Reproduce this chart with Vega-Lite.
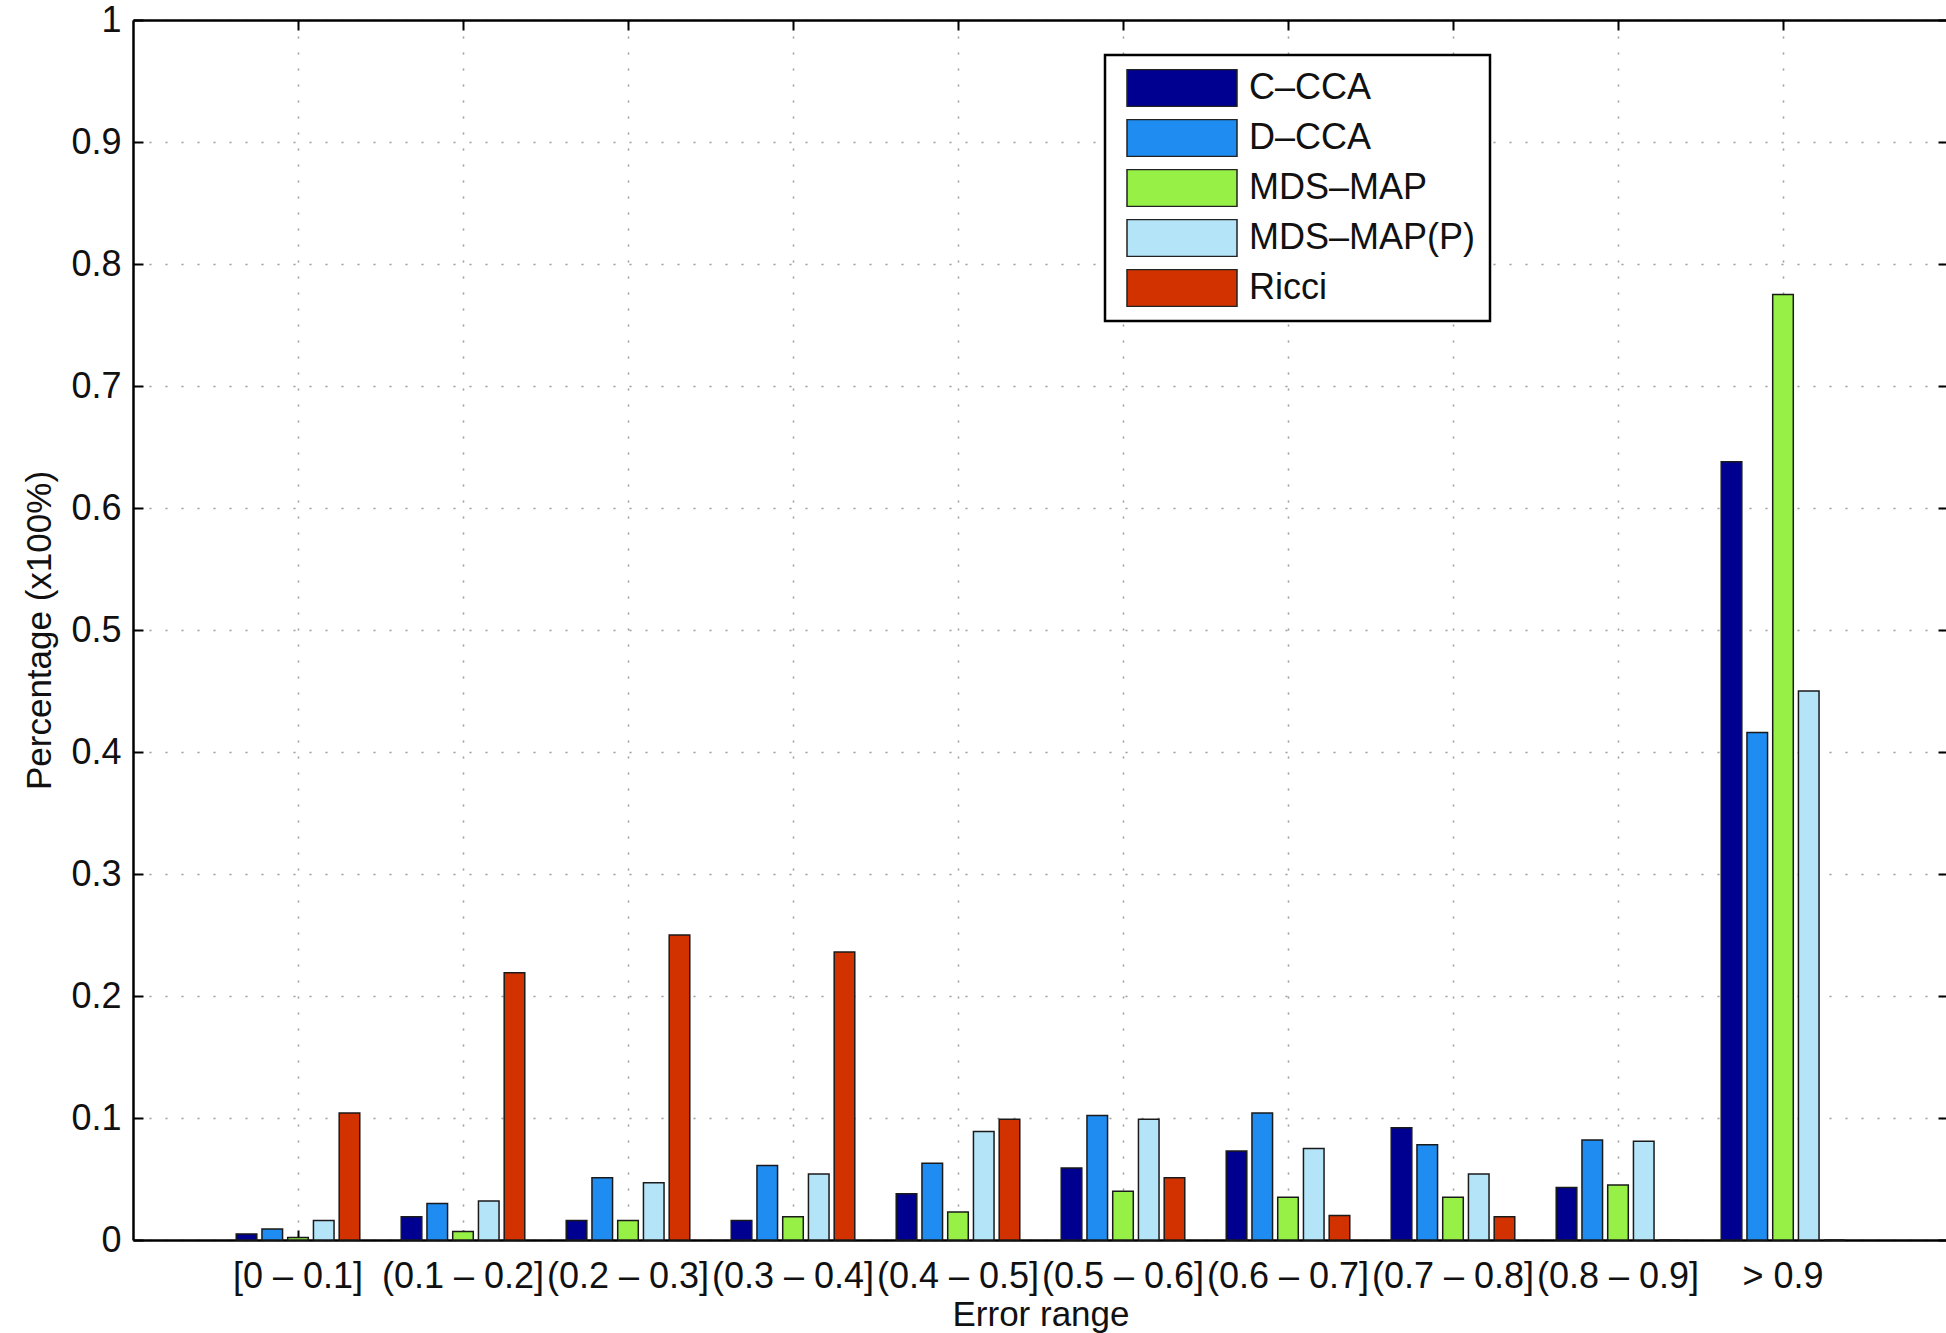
{
  "$schema": "https://vega.github.io/schema/vega-lite/v6.json",
  "width": 1815,
  "height": 1220,
  "autosize": "none",
  "padding": {"left": 133, "top": 20, "right": 0, "bottom": 93},
  "background": "white",
  "config": {
    "font": "Liberation Sans",
    "view": {"stroke": null},
    "legend": {"strokeWidth": 2.5},
    "axis": {"labelFont": "Liberation Sans", "titleFont": "Liberation Sans", "labelColor": "#111", "titleColor": "#111", "titleFontWeight": "normal"}
  },
  "data": {"values": [
    {"range": "[0 – 0.1]", "method": "C–CCA", "value": 0.005},
    {"range": "[0 – 0.1]", "method": "D–CCA", "value": 0.009},
    {"range": "[0 – 0.1]", "method": "MDS–MAP", "value": 0.002},
    {"range": "[0 – 0.1]", "method": "MDS–MAP(P)", "value": 0.016},
    {"range": "[0 – 0.1]", "method": "Ricci", "value": 0.104},
    {"range": "(0.1 – 0.2]", "method": "C–CCA", "value": 0.019},
    {"range": "(0.1 – 0.2]", "method": "D–CCA", "value": 0.030},
    {"range": "(0.1 – 0.2]", "method": "MDS–MAP", "value": 0.007},
    {"range": "(0.1 – 0.2]", "method": "MDS–MAP(P)", "value": 0.032},
    {"range": "(0.1 – 0.2]", "method": "Ricci", "value": 0.219},
    {"range": "(0.2 – 0.3]", "method": "C–CCA", "value": 0.016},
    {"range": "(0.2 – 0.3]", "method": "D–CCA", "value": 0.051},
    {"range": "(0.2 – 0.3]", "method": "MDS–MAP", "value": 0.016},
    {"range": "(0.2 – 0.3]", "method": "MDS–MAP(P)", "value": 0.047},
    {"range": "(0.2 – 0.3]", "method": "Ricci", "value": 0.250},
    {"range": "(0.3 – 0.4]", "method": "C–CCA", "value": 0.016},
    {"range": "(0.3 – 0.4]", "method": "D–CCA", "value": 0.061},
    {"range": "(0.3 – 0.4]", "method": "MDS–MAP", "value": 0.019},
    {"range": "(0.3 – 0.4]", "method": "MDS–MAP(P)", "value": 0.054},
    {"range": "(0.3 – 0.4]", "method": "Ricci", "value": 0.236},
    {"range": "(0.4 – 0.5]", "method": "C–CCA", "value": 0.038},
    {"range": "(0.4 – 0.5]", "method": "D–CCA", "value": 0.063},
    {"range": "(0.4 – 0.5]", "method": "MDS–MAP", "value": 0.023},
    {"range": "(0.4 – 0.5]", "method": "MDS–MAP(P)", "value": 0.089},
    {"range": "(0.4 – 0.5]", "method": "Ricci", "value": 0.099},
    {"range": "(0.5 – 0.6]", "method": "C–CCA", "value": 0.059},
    {"range": "(0.5 – 0.6]", "method": "D–CCA", "value": 0.102},
    {"range": "(0.5 – 0.6]", "method": "MDS–MAP", "value": 0.040},
    {"range": "(0.5 – 0.6]", "method": "MDS–MAP(P)", "value": 0.099},
    {"range": "(0.5 – 0.6]", "method": "Ricci", "value": 0.051},
    {"range": "(0.6 – 0.7]", "method": "C–CCA", "value": 0.073},
    {"range": "(0.6 – 0.7]", "method": "D–CCA", "value": 0.104},
    {"range": "(0.6 – 0.7]", "method": "MDS–MAP", "value": 0.035},
    {"range": "(0.6 – 0.7]", "method": "MDS–MAP(P)", "value": 0.075},
    {"range": "(0.6 – 0.7]", "method": "Ricci", "value": 0.020},
    {"range": "(0.7 – 0.8]", "method": "C–CCA", "value": 0.092},
    {"range": "(0.7 – 0.8]", "method": "D–CCA", "value": 0.078},
    {"range": "(0.7 – 0.8]", "method": "MDS–MAP", "value": 0.035},
    {"range": "(0.7 – 0.8]", "method": "MDS–MAP(P)", "value": 0.054},
    {"range": "(0.7 – 0.8]", "method": "Ricci", "value": 0.019},
    {"range": "(0.8 – 0.9]", "method": "C–CCA", "value": 0.043},
    {"range": "(0.8 – 0.9]", "method": "D–CCA", "value": 0.082},
    {"range": "(0.8 – 0.9]", "method": "MDS–MAP", "value": 0.045},
    {"range": "(0.8 – 0.9]", "method": "MDS–MAP(P)", "value": 0.081},
    {"range": "(0.8 – 0.9]", "method": "Ricci", "value": 0.0},
    {"range": "> 0.9", "method": "C–CCA", "value": 0.638},
    {"range": "> 0.9", "method": "D–CCA", "value": 0.416},
    {"range": "> 0.9", "method": "MDS–MAP", "value": 0.775},
    {"range": "> 0.9", "method": "MDS–MAP(P)", "value": 0.450},
    {"range": "> 0.9", "method": "Ricci", "value": 0.0}
  ]},
  "layer": [
    {
      "mark": {"type": "bar", "stroke": "#1a1a1a", "strokeWidth": 1.5},
      "encoding": {
        "x": {
          "field": "range", "type": "nominal", "sort": null,
          "scale": {"paddingInner": 0, "paddingOuter": 0.5},
          "axis": {
            "orient": "bottom", "title": "Error range", "titleFontSize": 35, "titlePadding": 3,
            "labelFontSize": 36, "labelAngle": 0, "labelOverlap": false, "labelBound": false,
            "labelPadding": 29, "tickSize": -10, "tickColor": "#000", "tickWidth": 2,
            "domainColor": "#000", "domainWidth": 2.5, "bandPosition": 0.5,
            "grid": true, "gridColor": "#9a9a9a", "gridDash": [2, 14], "gridWidth": 1.5
          }
        },
        "xOffset": {
          "field": "method", "type": "nominal",
          "sort": ["C–CCA", "D–CCA", "MDS–MAP", "MDS–MAP(P)", "Ricci"],
          "scale": {"paddingInner": 0.2, "paddingOuter": 0.805}
        },
        "y": {
          "field": "value", "type": "quantitative",
          "scale": {"domain": [0, 1], "nice": false, "zero": true},
          "axis": {
            "orient": "left", "title": "Percentage (x100%)", "titleFontSize": 35, "titlePadding": 13,
            "values": [0, 0.1, 0.2, 0.3, 0.4, 0.5, 0.6, 0.7, 0.8, 0.9, 1], "format": "~g",
            "labelFontSize": 36, "labelPadding": 22, "tickSize": -10, "tickColor": "#000", "tickWidth": 2,
            "domainColor": "#000", "domainWidth": 2.5,
            "grid": true, "gridColor": "#9a9a9a", "gridDash": [2, 14], "gridWidth": 1.5
          }
        },
        "color": {
          "field": "method", "type": "nominal",
          "scale": {
            "domain": ["C–CCA", "D–CCA", "MDS–MAP", "MDS–MAP(P)", "Ricci"],
            "range": ["#000090", "#1e8cf0", "#96f046", "#b4e4f8", "#d23200"]
          },
          "legend": {
            "title": null, "orient": "none", "legendX": 972, "legendY": 35,
            "symbolType": "M-1,-0.336H1V0.336H-1Z", "symbolSize": 12100, "symbolOffset": 7,
            "symbolStrokeColor": "#222", "symbolStrokeWidth": 1.5,
            "clipHeight": 38, "rowPadding": 12,
            "labelFontSize": 36, "labelFont": "Liberation Sans", "labelColor": "#111", "labelOffset": 11, "labelLimit": 400,
            "strokeColor": "#000", "fillColor": "white",
            "padding": 14
          }
        }
      }
    },
    {
      "mark": {"type": "tick", "opacity": 0},
      "encoding": {
        "x": {
          "field": "range", "type": "nominal", "sort": null,
          "axis": {
            "orient": "top", "title": null, "labels": false, "grid": false,
            "tickSize": -10, "tickColor": "#000", "tickWidth": 2, "bandPosition": 0.5,
            "domainColor": "#000", "domainWidth": 2.5
          }
        },
        "y": {
          "field": "value", "type": "quantitative",
          "axis": {
            "orient": "right", "title": null, "labels": false, "grid": false,
            "values": [0, 0.1, 0.2, 0.3, 0.4, 0.5, 0.6, 0.7, 0.8, 0.9, 1],
            "tickSize": -10, "tickColor": "#000", "tickWidth": 2,
            "domainColor": "#000", "domainWidth": 2.5
          }
        }
      }
    }
  ],
  "resolve": {"axis": {"x": "independent", "y": "independent"}}
}
